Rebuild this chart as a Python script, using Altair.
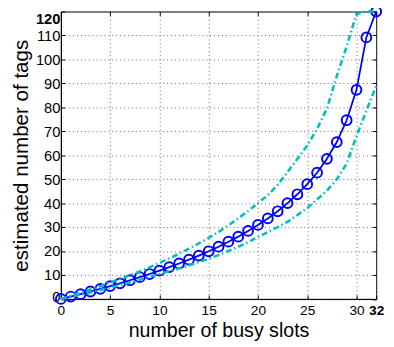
import altair as alt
import pandas as pd

slots = list(range(33))
estimate = [0, 1.0, 2.0, 3.1, 4.2, 5.35, 6.5, 7.8, 9.1, 10.4, 11.8, 13.3, 14.8, 16.4,
            18.1, 19.9, 21.8, 23.9, 26.0, 28.4, 30.9, 33.6, 36.6, 40.0, 43.7, 47.9,
            52.7, 58.5, 65.5, 74.6, 87.3, 109.2, 120]
upper = [0, 1.3, 2.6, 3.9, 5.3, 6.8, 8.3, 9.9, 11.5, 13.2, 15.0, 16.9, 18.9, 21.0,
         23.2, 25.5, 28.0, 30.7, 33.6, 36.7, 40.0, 43.3, 47.6, 53.0, 58.5, 64.0,
         71.0, 79.5, 93.0, 105.4, 119.0, 120, 120]
lower = [0, 0.9, 1.8, 2.7, 3.7, 4.7, 5.8, 6.9, 8.0, 9.2, 10.4, 11.6, 12.8, 14.0,
         15.3, 16.8, 18.3, 20.0, 21.8, 23.7, 25.8, 27.9, 30.0, 32.2, 35.0, 38.0,
         41.5, 45.2, 50.0, 56.4, 68.0, 78.5, 89.0]

x_ticks = [0, 5, 10, 15, 20, 25, 30, 32]
y_ticks = [0, 10, 20, 30, 40, 50, 60, 70, 80, 90, 100, 110, 120]

df = pd.DataFrame({"slots": slots, "estimate": estimate, "upper": upper, "lower": lower})

FONT = "Liberation Sans"
xscale = alt.Scale(domain=[0, 32], nice=False, zero=False)
yscale = alt.Scale(domain=[0, 120], nice=False, zero=False)

bold_x = {"condition": {"test": "datum.value == 32", "value": "bold"}, "value": "normal"}
bold_y = {"condition": {"test": "datum.value == 120", "value": "bold"}, "value": "normal"}
base_y = {"condition": {"test": "datum.value == 120", "value": "top"}, "value": "middle"}
off_y = {"condition": {"test": "datum.value == 0", "value": -2}, "value": 0}

x_axis = alt.Axis(values=x_ticks, title="number of busy slots", titleFont=FONT,
                  titleFontSize=20, titleFontWeight="normal", titleColor="black",
                  titleBaseline="alphabetic", titleY=38,
                  labelFont=FONT, labelFontSize=14, labelColor="black",
                  labelFontWeight=bold_x, labelPadding=9, labelFlush=False,
                  labelOverlap=False, tickSize={"expr": "-4"}, tickColor="black",
                  domainColor="black", grid=True, gridColor="#666", gridDash=[1, 3],
                  gridWidth=1)
y_axis = alt.Axis(values=y_ticks, title="estimated number of tags", titleFont=FONT,
                  titleFontSize=21, titleFontWeight="normal", titleColor="black",
                  titleBaseline="alphabetic", titleX=-34,
                  labelFont=FONT, labelFontSize=15, labelColor="black",
                  labelFontWeight=bold_y, labelBaseline=base_y, labelOffset=off_y,
                  labelPadding=5, labelFlush=False, labelOverlap=False,
                  tickSize={"expr": "-4"}, tickColor="black", domainColor="black",
                  grid=True, gridColor="#666", gridDash=[1, 3], gridWidth=1)

x_top = alt.Axis(orient="top", values=x_ticks, labels=False, title=None, grid=False,
                 domain=False, tickSize={"expr": "-4"}, tickColor="black")
y_right = alt.Axis(orient="right", values=y_ticks, labels=False, title=None, grid=False,
                   domain=False, tickSize={"expr": "-4"}, tickColor="black")

base = alt.Chart(df)

blue = base.mark_line(color="#0000FF", strokeWidth=1.8, clip=False).encode(
    x=alt.X("slots:Q", scale=xscale, axis=x_axis),
    y=alt.Y("estimate:Q", scale=yscale, axis=y_axis),
)
circles = base.mark_point(shape="circle", size=100, color="#0000FF", strokeWidth=2,
                          opacity=1, filled=False, clip=False).encode(
    x=alt.X("slots:Q", scale=xscale, axis=None),
    y=alt.Y("estimate:Q", scale=yscale, axis=None),
)
up = base.mark_line(color="#00BFBF", strokeWidth=2.6, strokeDash=[6, 3, 1.5, 3]).encode(
    x=alt.X("slots:Q", scale=xscale, axis=x_top),
    y=alt.Y("upper:Q", scale=yscale, axis=y_right),
)
low = base.mark_line(color="#00BFBF", strokeWidth=2.6, strokeDash=[6, 3, 1.5, 3]).encode(
    x=alt.X("slots:Q", scale=xscale, axis=None),
    y=alt.Y("lower:Q", scale=yscale, axis=None),
)

chart = alt.layer(blue, circles, up, low).resolve_axis(
    x="independent", y="independent"
).properties(
    width=322, height=293.5,
    autosize=alt.AutoSizeParams(type="none"),
    padding={"left": 54, "top": 0, "right": 10, "bottom": 45},
    background="white",
).configure_view(stroke="black", strokeWidth=1)

chart.save("out.html", embed_options={"renderer": "svg", "actions": False})
